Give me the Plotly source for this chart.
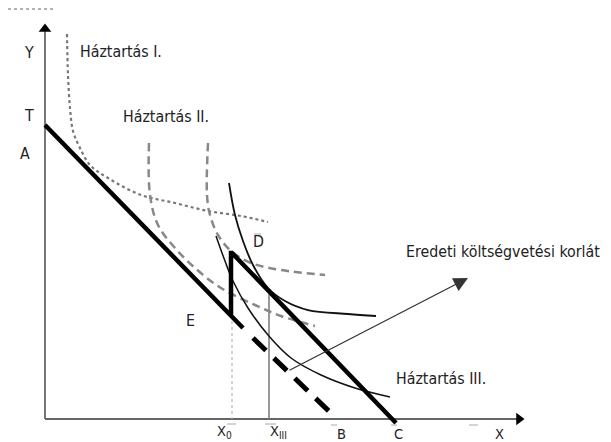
import plotly.graph_objects as go

W, H = 611, 442

# axes (diagram coordinates, y grows downward)
origin = (37, 411)
y_axis_top = 15
x_axis_end = 517

# budget lines
budget_AB_solid_x = [37, 235]
budget_AB_solid_y = [117, 320]
budget_AB_dash_x = [245, 327]
budget_AB_dash_y = [330, 409]
budget_DC_x = [223, 223, 224, 388]
budget_DC_y = [307, 245, 245, 415]

# indifference curves
hh1_x = [59, 60, 62, 65, 72, 82, 100, 133, 167, 200, 233, 260]
hh1_y = [26, 67, 100, 123, 140, 157, 170, 187, 195, 203, 208, 214]

hh2a_x = [141, 142, 150, 167, 187, 213, 247, 273, 307]
hh2a_y = [135, 187, 217, 240, 260, 280, 297, 308, 318]

hh2b_x = [200, 199, 202, 210, 223, 243, 273, 317]
hh2b_y = [135, 187, 207, 227, 243, 255, 262, 267]

hh3a_x = [221, 227, 235, 245, 260, 277, 300, 340, 368]
hh3a_y = [175, 207, 233, 257, 280, 293, 302, 306, 308]

hh3b_x = [208, 217, 225, 240, 260, 283, 313, 347, 382]
hh3b_y = [228, 253, 273, 300, 327, 350, 367, 380, 389]

# vertical guide lines
x0_pos = 224
x0_top = 307
x3_pos = 261
x3_top = 286

# arrow for "Eredeti költségvetési korlát"
arrow_from = (280, 363)
arrow_to = (460, 270)

fig = go.Figure()

def line(x, y, color, width, dash="solid", shape="linear"):
    fig.add_trace(go.Scatter(x=x, y=y, mode="lines",
                             line=dict(color=color, width=width, dash=dash, shape=shape),
                             hoverinfo="skip", showlegend=False))

# axes
line([origin[0], origin[0]], [origin[1], y_axis_top + 8], "#666", 1.8)
line([origin[0], x_axis_end - 8], [origin[1], origin[1]], "#666", 1.8)
fig.add_trace(go.Scatter(x=[origin[0]], y=[y_axis_top + 6], mode="markers",
                         marker=dict(symbol="triangle-up", size=11, color="black"),
                         hoverinfo="skip", showlegend=False))
fig.add_trace(go.Scatter(x=[x_axis_end - 6], y=[origin[1]], mode="markers",
                         marker=dict(symbol="triangle-right", size=11, color="black"),
                         hoverinfo="skip", showlegend=False))

# vertical guides
line([x0_pos, x0_pos], [x0_top, origin[1]], "#bbb", 1.3, dash="dot")
line([x3_pos, x3_pos], [x3_top, origin[1]], "#777", 1.5)

# curves
line(hh1_x, hh1_y, "#777", 2.2, dash="dot", shape="spline")
line(hh2a_x, hh2a_y, "#888", 2.5, dash="8px,5px", shape="spline")
line(hh2b_x, hh2b_y, "#888", 2.5, dash="8px,5px", shape="spline")
line(hh3a_x, hh3a_y, "#111", 1.8, shape="spline")
line(hh3b_x, hh3b_y, "#111", 1.5, shape="spline")

# budget lines
line(budget_AB_solid_x, budget_AB_solid_y, "black", 4.5)
line(budget_AB_dash_x, budget_AB_dash_y, "black", 5, dash="18px,11px")
line(budget_DC_x, budget_DC_y, "black", 4.5)

# small overbars
bars = [(246, 253, 226), (219, 228, 416), (257, 268, 416), (323, 329, 417), (383, 389, 417), (461, 470, 417)]
for x1, x2, yy in bars:
    line([x1, x2], [yy, yy], "#aaa", 1)

FONT = "DejaVu Sans Condensed"
def text(x, y, s, anchor="center", size=15.8):
    fig.add_annotation(x=x, y=y, xref="x", yref="y", text=s, showarrow=False,
                       xanchor=anchor, yanchor="middle", borderpad=0,
                       font=dict(family=FONT, size=size, color="#222"))

text(21, 44, "Y")
text(21, 107, "T")
text(17, 145, "A")
text(71, 43, "Háztartás I.", anchor="left")
text(114, 108, "Háztartás II.", anchor="left")
text(250, 233, "D")
text(182, 312, "E")
text(397, 243, "Eredeti költségvetési korlát", anchor="left")
text(387, 370, "Háztartás III.", anchor="left")
text(216, 424, "X<sub>0</sub>", size=14.5)
text(270, 424, "X<sub>III</sub>", size=14.5)
text(333, 426, "B", size=14.5)
text(390, 426, "C", size=14.5)
text(491, 426, "X", size=14.5)

fig.add_annotation(x=arrow_to[0], y=arrow_to[1], ax=arrow_from[0], ay=arrow_from[1],
                   xref="x", yref="y", axref="x", ayref="y", text="",
                   showarrow=True, arrowhead=2, arrowsize=2.2, arrowwidth=1.3,
                   arrowcolor="#333")

# clipped text remnant at top
line([0, 45], [1, 1], "#999", 1.5, dash="dot")

fig.update_xaxes(range=[0, W], visible=False, fixedrange=True)
fig.update_yaxes(range=[H, 0], visible=False, fixedrange=True)
fig.update_layout(width=W, height=H, margin=dict(l=0, r=0, t=0, b=0),
                  plot_bgcolor="white", paper_bgcolor="white")

fig.write_html("out.html")
